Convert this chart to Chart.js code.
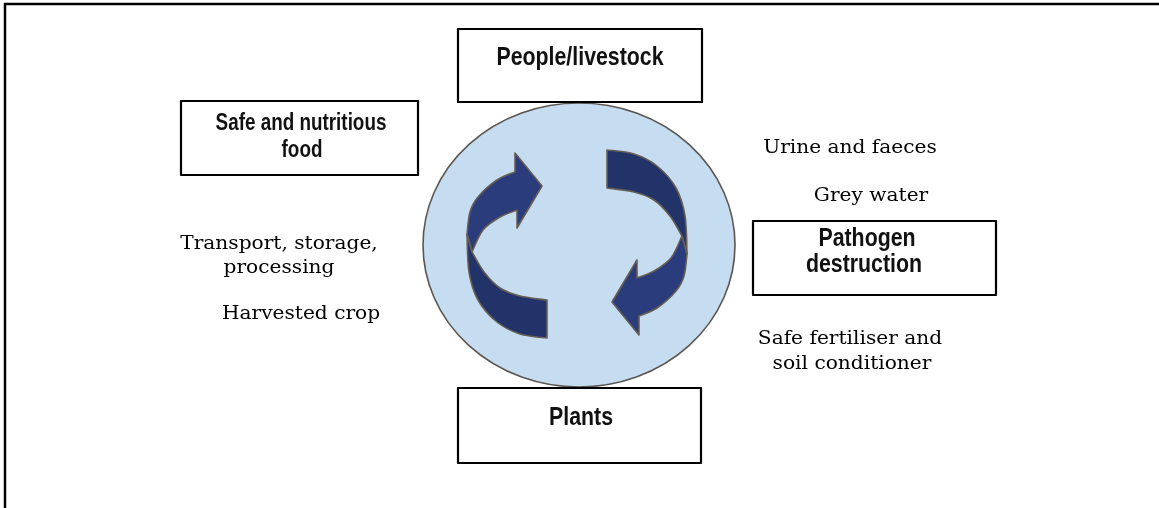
<!DOCTYPE html>
<html>
<head>
<meta charset="utf-8">
<script src="https://cdn.jsdelivr.net/npm/chart.js@4/dist/chart.umd.min.js"></script>
<style>
    body { margin: 0; background: #ffffff; }
    #cycleChart { display: block; }
</style>
</head>
<body>
<canvas id="cycleChart" width="1159" height="508"></canvas>
<script>

// ------------------------------
// Diagram text
// ------------------------------

const boxLabels = [
    ["People/livestock"],
    ["Safe and nutritious", "food"],
    ["Pathogen", "destruction"],
    ["Plants"]
];

const flowLabels = [
    ["Urine and faeces"],
    ["Grey water"],
    ["Safe fertiliser and", "soil conditioner"],
    ["Harvested crop"],
    ["Transport, storage,", "processing"]
];


// ------------------------------
// Layout (page units, y down)
// ------------------------------

const boxLayout = [
    { x0: 458, y0: 29, x1: 702, y1: 102, tx: [580], ty: [65], size: 26 },
    { x0: 181, y0: 101, x1: 418, y1: 175, tx: [301, 302], ty: [130, 157], size: 23 },
    { x0: 753, y0: 221, x1: 996, y1: 295, tx: [867, 864], ty: [246, 272], size: 26 },
    { x0: 458, y0: 388, x1: 701, y1: 463, tx: [581], ty: [425], size: 26 }
];

const flowLayout = [
    { tx: [850], ty: [153] },
    { tx: [871], ty: [201] },
    { tx: [850, 852], ty: [344, 369] },
    { tx: [301], ty: [319] },
    { tx: [279, 279], ty: [249, 273] }
];

const ring = { cx: 579, cy: 245, rx: 156, ry: 142 };

// left arrow, the right one is the same turned half way round the ring centre
const arrowLower = {
    outer: [[467, 234], [469, 272], [478, 300], [497, 322], [520, 334], [547, 338]],
    inner: [[547, 300], [520, 296], [500, 288], [484, 272], [472, 252]]
};

const arrowUpper = {
    outer: [[467, 234], [470, 212], [478, 197], [497, 180], [515, 172]],
    head: [[515, 153], [542, 186], [517, 228]],
    inner: [[517, 210], [500, 217], [483, 230], [472, 252]]
};


// ------------------------------
// Drawing plugin
// ------------------------------

function smoothPath(ctx, pts, moveFirst) {
    if (moveFirst) ctx.moveTo(pts[0][0], pts[0][1]);
    else ctx.lineTo(pts[0][0], pts[0][1]);
    for (let i = 0; i < pts.length - 1; i++) {
        const p0 = pts[Math.max(i - 1, 0)];
        const p1 = pts[i];
        const p2 = pts[i + 1];
        const p3 = pts[Math.min(i + 2, pts.length - 1)];
        ctx.bezierCurveTo(
            p1[0] + (p2[0] - p0[0]) / 6, p1[1] + (p2[1] - p0[1]) / 6,
            p2[0] - (p3[0] - p1[0]) / 6, p2[1] - (p3[1] - p1[1]) / 6,
            p2[0], p2[1]
        );
    }
}

const diagramPlugin = {

    id: "diagram",

    afterDraw(chart) {

        const ctx = chart.ctx;
        const xs = chart.scales.x;
        const ys = chart.scales.y;
        const P = (p) => [xs.getPixelForValue(p[0]), ys.getPixelForValue(p[1])];

        ctx.save();

        // outer frame (only top and left edges show)
        ctx.strokeStyle = "#000000";
        ctx.lineWidth = 2.5;
        ctx.beginPath();
        const f0 = P([5, 508]);
        const f1 = P([5, 4]);
        const f2 = P([1159, 4]);
        ctx.moveTo(f0[0], f0[1]);
        ctx.lineTo(f1[0], f1[1]);
        ctx.lineTo(f2[0], f2[1]);
        ctx.stroke();

        // ring
        const c = P([ring.cx, ring.cy]);
        const r = P([ring.cx + ring.rx, ring.cy + ring.ry]);
        ctx.beginPath();
        ctx.ellipse(c[0], c[1], r[0] - c[0], r[1] - c[1], 0, 0, Math.PI * 2);
        ctx.fillStyle = "#c6dcf0";
        ctx.fill();
        ctx.strokeStyle = "#5c5650";
        ctx.lineWidth = 1.6;
        ctx.stroke();

        // arrows
        const turn = (p) => [2 * 577 - p[0], 2 * 244 - p[1]];
        [(p) => p, turn].forEach((t) => {
            const tp = (list) => list.map((p) => P(t(p)));

            ctx.beginPath();
            smoothPath(ctx, tp(arrowLower.outer), true);
            smoothPath(ctx, tp(arrowLower.inner), false);
            ctx.closePath();
            ctx.fillStyle = "#22336a";
            ctx.fill();
            ctx.strokeStyle = "#665d55";
            ctx.lineWidth = 1.6;
            ctx.lineJoin = "round";
            ctx.stroke();

            ctx.beginPath();
            smoothPath(ctx, tp(arrowUpper.outer), true);
            tp(arrowUpper.head).forEach((p) => ctx.lineTo(p[0], p[1]));
            smoothPath(ctx, tp(arrowUpper.inner), false);
            ctx.closePath();
            ctx.fillStyle = "#2b3c7c";
            ctx.fill();
            ctx.stroke();
        });

        // boxes
        ctx.textAlign = "center";
        ctx.textBaseline = "alphabetic";
        boxLayout.forEach((b, i) => {
            const a = P([b.x0, b.y0]);
            const z = P([b.x1, b.y1]);
            ctx.fillStyle = "#ffffff";
            ctx.fillRect(a[0], a[1], z[0] - a[0], z[1] - a[1]);
            ctx.strokeStyle = "#000000";
            ctx.lineWidth = 2.2;
            ctx.strokeRect(a[0], a[1], z[0] - a[0], z[1] - a[1]);

            ctx.fillStyle = "#111111";
            ctx.font = "bold " + b.size + "px 'Liberation Sans', Arial, sans-serif";
            boxLabels[i].forEach((line, k) => {
                const p = P([b.tx[k], b.ty[k]]);
                ctx.save();
                ctx.translate(p[0], p[1]);
                ctx.scale(0.82, 1);
                ctx.fillText(line, 0, 0);
                ctx.restore();
            });
        });

        // flow captions
        ctx.fillStyle = "#000000";
        ctx.font = "18px 'DejaVu Serif', serif";
        flowLayout.forEach((f, i) => {
            flowLabels[i].forEach((line, k) => {
                const p = P([f.tx[k], f.ty[k]]);
                ctx.save();
                ctx.translate(p[0], p[1]);
                ctx.scale(1.12, 1);
                ctx.fillText(line, 0, 0);
                ctx.restore();
            });
        });

        ctx.restore();
    }
};


// ------------------------------
// Chart (hidden axes span the page)
// ------------------------------

const cycleChart = new Chart(document.getElementById("cycleChart"), {

    type: "scatter",

    data: {

        datasets: [{

            data: [],

            showLine: false

        }]

    },

    options: {

        responsive: false,

        animation: false,

        layout: {

            padding: 0

        },

        scales: {

            x: { type: "linear", min: 0, max: 1159, display: false },

            y: { type: "linear", min: 0, max: 508, reverse: true, display: false }

        },

        plugins: {

            legend: { display: false },

            tooltip: { enabled: false }

        }

    },

    plugins: [diagramPlugin]

});

</script>
</body>
</html>
